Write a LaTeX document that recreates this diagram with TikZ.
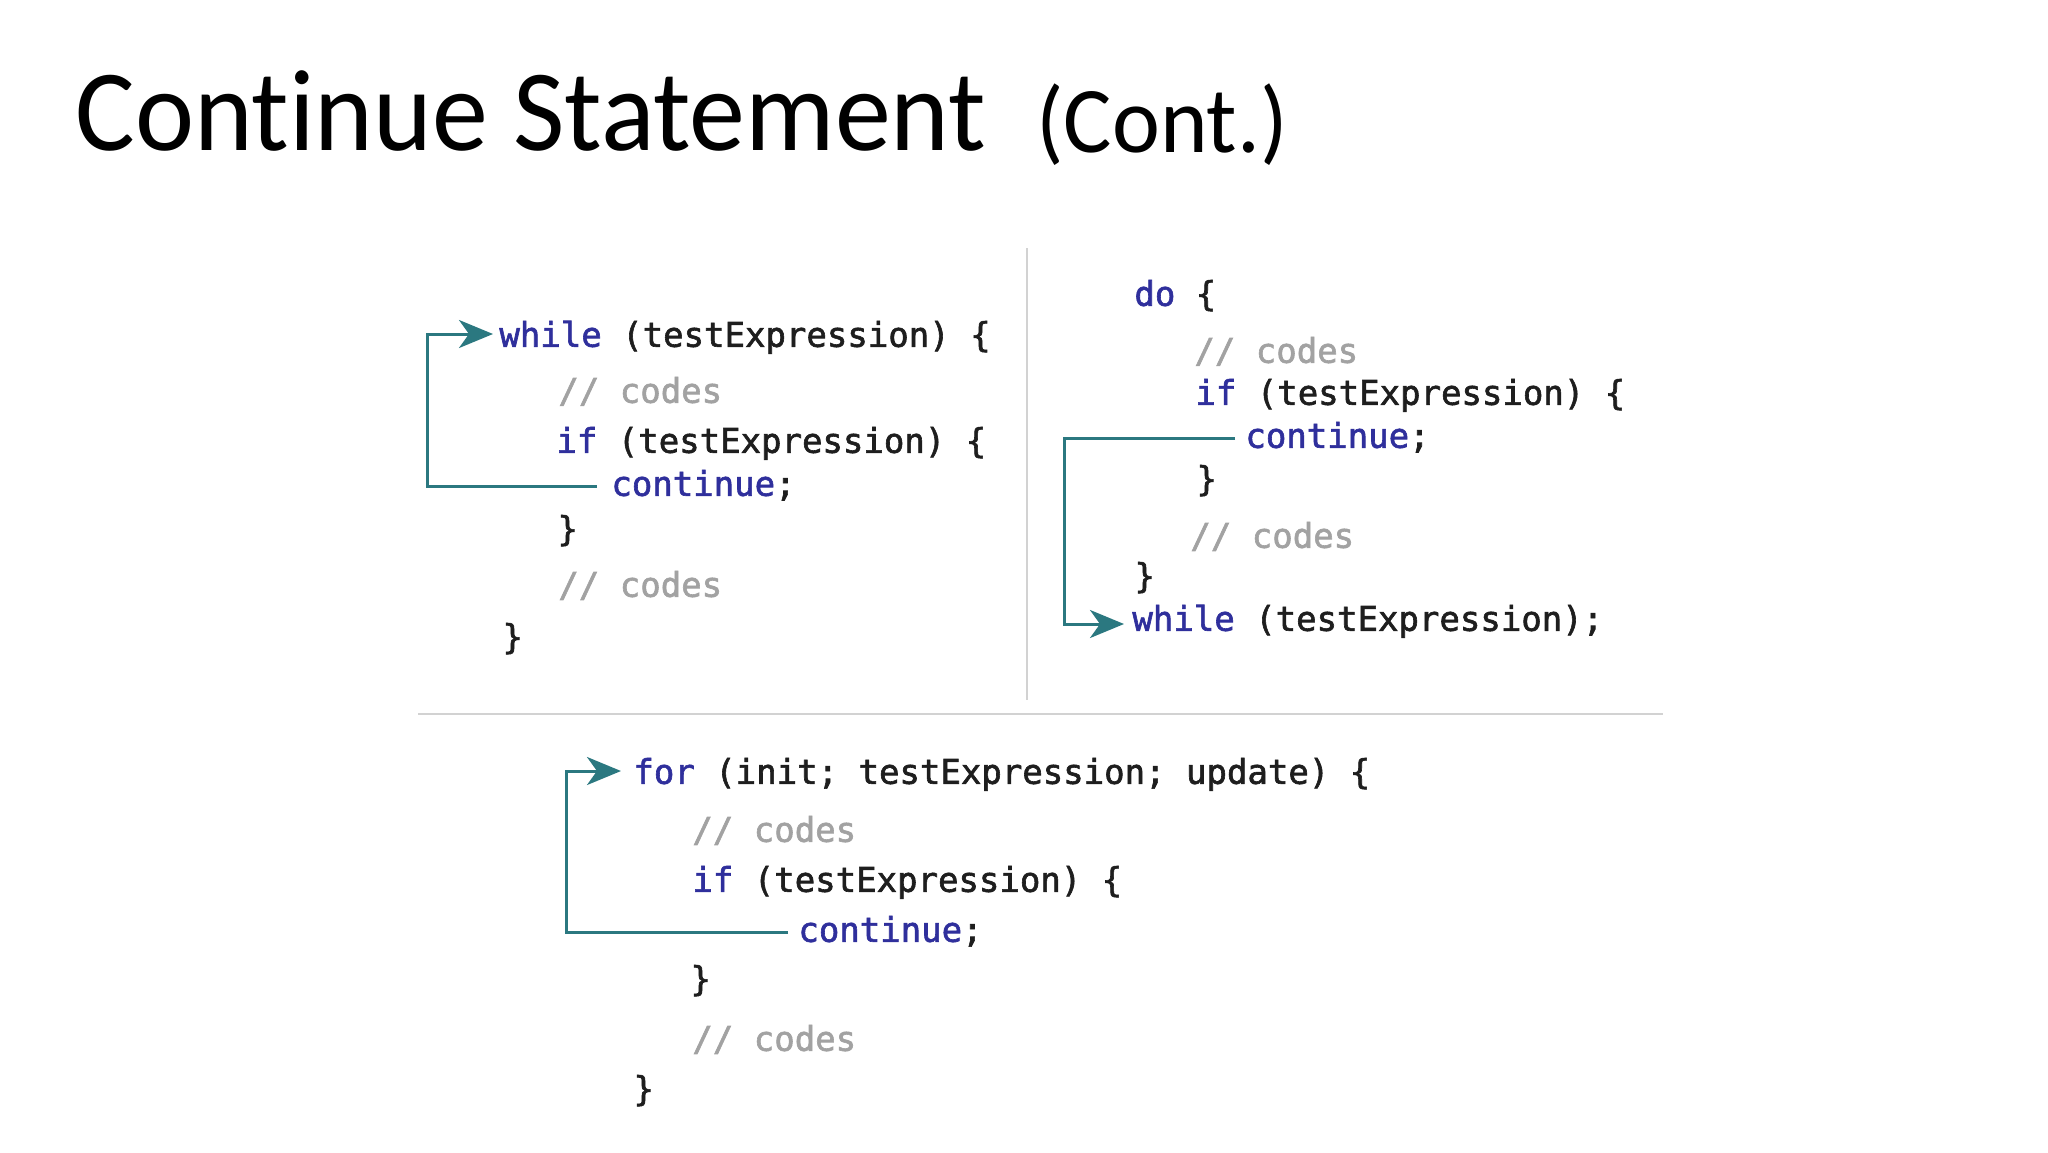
\documentclass[tikz,border=0pt]{standalone}
\usepackage{fontspec}
\setmainfont{Carlito}
\newfontfamily\titlefont[Ligatures=NoCommon, FakeStretch=0.965]{Carlito}
\newfontfamily\codefont[FakeBold=1.8]{DejaVu Sans Mono}
\usetikzlibrary{arrows.meta}
\definecolor{kw}{HTML}{2F2F9C}
\definecolor{cmt}{HTML}{A2A2A2}
\definecolor{codetext}{HTML}{1E1E1E}
\definecolor{teal}{HTML}{2B7880}
\definecolor{sep}{HTML}{D2D2D2}
\newcommand{\kw}[1]{\textcolor{kw}{#1}}
\newcommand{\cm}[1]{\textcolor{cmt}{#1}}
\tikzset{
  code/.style={anchor=mid west, inner sep=0pt, text=codetext,
    font=\codefont\fontsize{17}{20}\selectfont},
  loopline/.style={draw=teal, line width=1.5pt,
    -{Stealth[length=17pt,width=14pt,inset=5pt]}},
  sepline/.style={draw=sep, line width=1pt}
}
\begin{document}
\begin{tikzpicture}[x=0.5pt,y=-0.5pt]
\useasboundingbox (0,0) rectangle (2048,1152);
\fill[white] (0,0) rectangle (2048,1152);
% title
\node[anchor=base west, inner sep=0pt, font=\titlefont\fontsize{58}{66}\selectfont] (title) at (75,150) {Continue Statement};
\node[anchor=base west, inner sep=0pt, font=\titlefont\fontsize{47}{56}\selectfont] (cont) at (1036,152) {(Cont.)};
% separators
\coordinate (vt) at (1027,248);
\coordinate (vb) at (1027,700);
\coordinate (hl) at (418,714);
\coordinate (hr) at (1663,714);
\draw[sepline] (vt) -- (vb);
\draw[sepline] (hl) -- (hr);
% while loop
\node[code] (w1) at (499,342) {\kw{while} (testExpression) \{};
\node[code] (w2) at (558,398) {\cm{// codes}};
\node[code] (w3) at (556,448) {\kw{if} (testExpression) \{};
\node[code] (w4) at (611,491) {\kw{continue};};
\node[code] (w5) at (557,536) {\}};
\node[code] (w6) at (558,592) {\cm{// codes}};
\node[code] (w7) at (502,644) {\}};
\coordinate (wl) at (427,488);
\coordinate (w4a) at ([yshift=2.5pt]w4.mid west);
\coordinate (w1a) at ([yshift=4pt]w1.mid west);
\draw[loopline, shorten <=7pt, shorten >=3pt] (w4a) -- (w4a -| wl) -- (w1a -| wl) -- (w1a);
% do-while loop
\node[code] (d1) at (1134,301) {\kw{do} \{};
\node[code] (d2) at (1194,358) {\cm{// codes}};
\node[code] (d3) at (1195,400) {\kw{if} (testExpression) \{};
\node[code] (d4) at (1245,443) {\kw{continue};};
\node[code] (d5) at (1196,486) {\}};
\node[code] (d6) at (1190,543) {\cm{// codes}};
\node[code] (d7) at (1134,583) {\}};
\node[code] (d8) at (1132,626) {\kw{while} (testExpression);};
\coordinate (dl) at (1064,437);
\coordinate (d4a) at ([yshift=2.5pt]d4.mid west);
\coordinate (d8a) at ([yshift=1pt]d8.mid west);
\draw[loopline, shorten <=5pt, shorten >=4pt] (d4a) -- (d4a -| dl) -- (d8a -| dl) -- (d8a);
% for loop
\node[code] (f1) at (633,779) {\kw{for} (init; testExpression; update) \{};
\node[code] (f2) at (692,837) {\cm{// codes}};
\node[code] (f3) at (692,887) {\kw{if} (testExpression) \{};
\node[code] (f4) at (798,937) {\kw{continue};};
\node[code] (f5) at (690,986) {\}};
\node[code] (f6) at (692,1046) {\cm{// codes}};
\node[code] (f7) at (633,1096) {\}};
\coordinate (fl) at (566,931);
\coordinate (f4a) at ([yshift=2.5pt]f4.mid west);
\coordinate (f1a) at ([yshift=4pt]f1.mid west);
\draw[loopline, shorten <=5pt, shorten >=6pt] (f4a) -- (f4a -| fl) -- (f1a -| fl) -- (f1a);
\end{tikzpicture}
\end{document}
